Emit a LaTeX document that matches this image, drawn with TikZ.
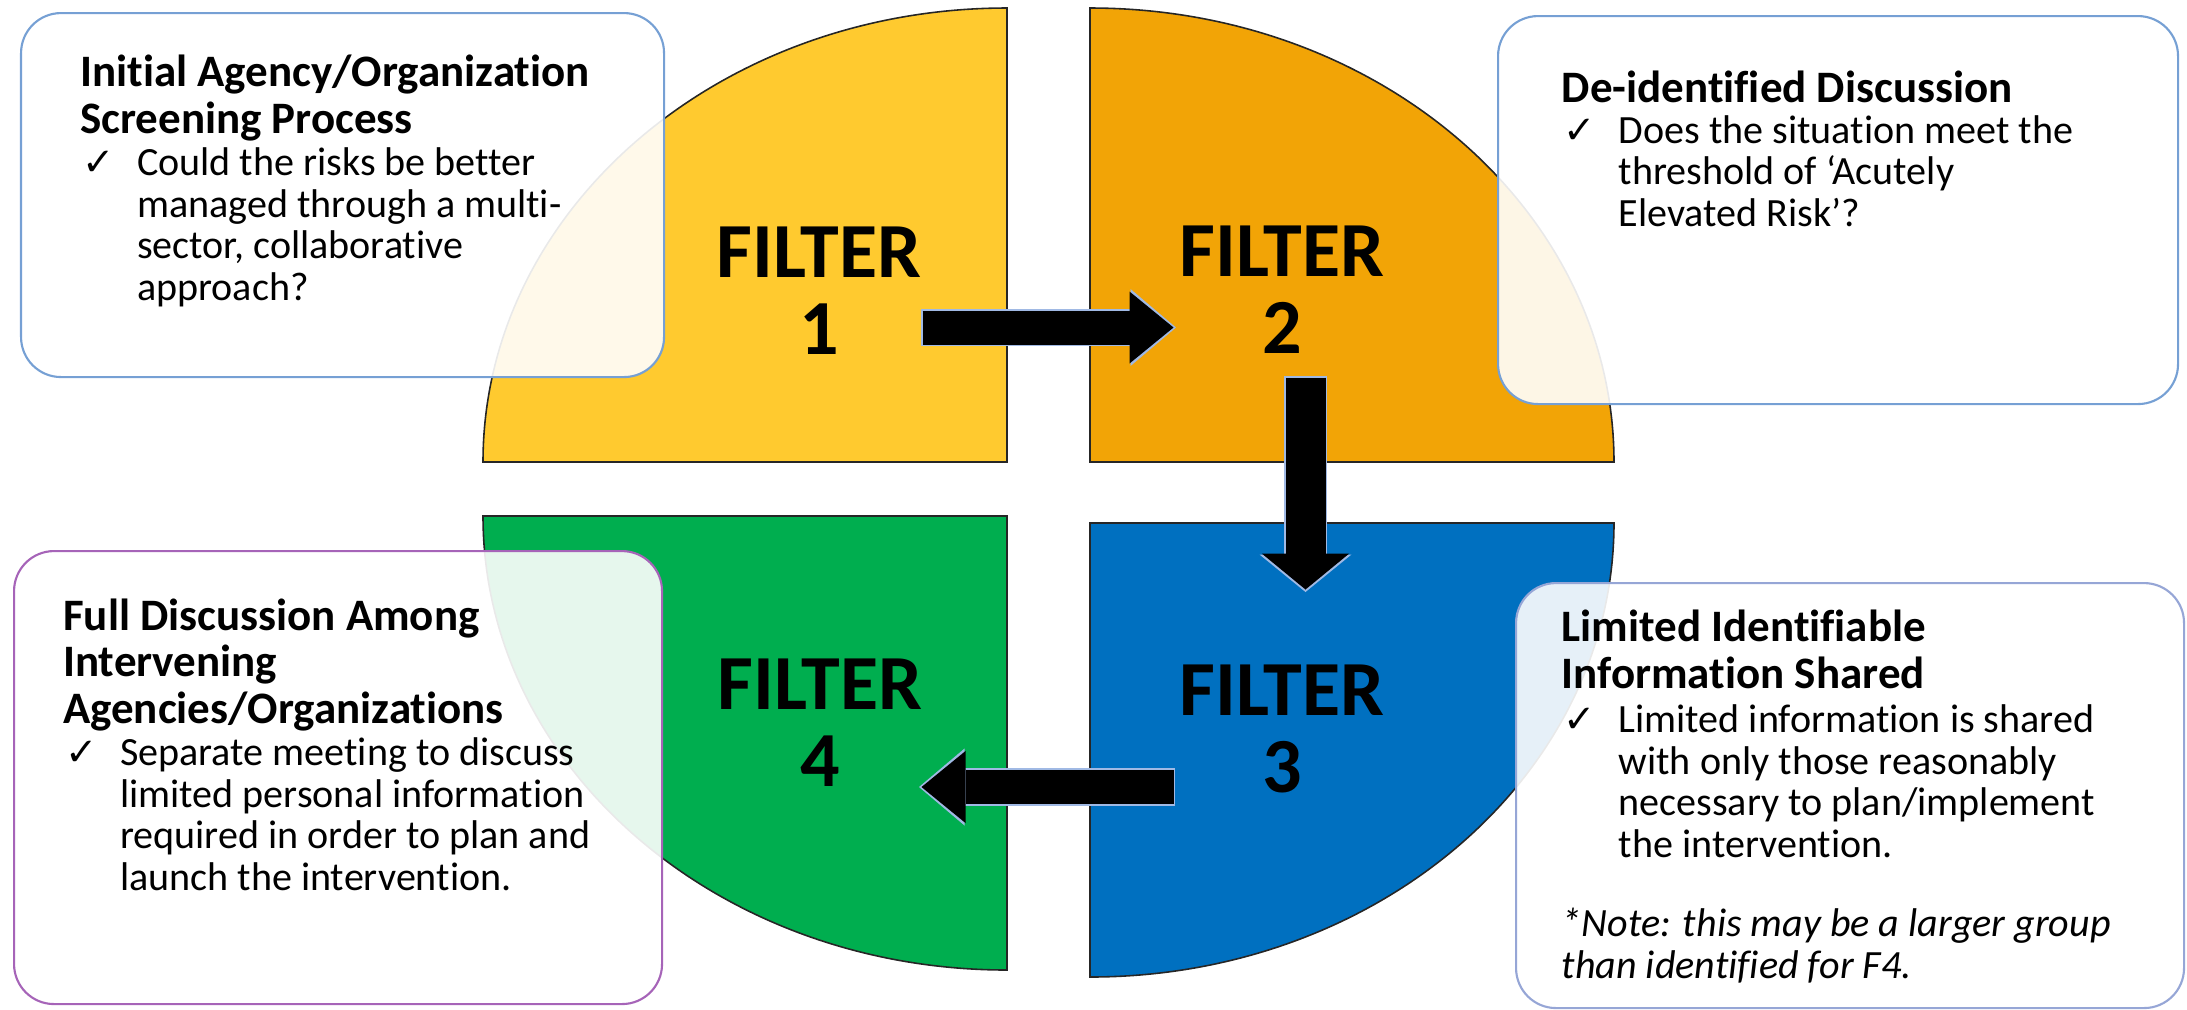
\documentclass[tikz,border=0pt]{standalone}
\usepackage{fontspec}
\setmainfont{Carlito}[Ligatures=NoCommon]
\newfontfamily\symfont{DejaVu Sans}
\usepackage{tikz}
\usetikzlibrary{arrows.meta,positioning,calc}

\definecolor{filtyellow}{RGB}{255,202,47}
\definecolor{filtorange}{RGB}{242,164,6}
\definecolor{filtgreen}{RGB}{0,174,79}
\definecolor{filtblue}{RGB}{0,112,192}
\definecolor{noteblue}{RGB}{118,160,212}
\definecolor{notepurple}{RGB}{166,100,184}
\definecolor{notegray}{RGB}{150,166,214}
\definecolor{arrowedge}{RGB}{160,185,228}

\newcommand{\tickmark}{\makebox[0.57cm][l]{\hspace{0.02cm}{\symfont\fontsize{11}{11}\selectfont ✓}}}
\newcommand{\tickind}{\hspace*{0.57cm}}

\begin{document}
\begin{tikzpicture}[
		quad/.style={draw=black!85, line width=0.45pt},
		note/.style={rectangle, rounded corners=0.4cm, fill=white, fill opacity=0.9, line width=0.6pt, anchor=north west, inner sep=0pt},
		filt/.style={font=\fontsize{22.2}{21.9}\selectfont\bfseries, align=center, anchor=base, inner sep=0pt},
		head/.style={font=\fontsize{12.8}{13.2}\selectfont\bfseries, align=left, anchor=base west, inner sep=0pt},
		body/.style={font=\fontsize{11.4}{11.8}\selectfont, align=left, anchor=base west, inner sep=0pt},
		flow/.style={black, line width=0.34cm, -{Triangle[length=0.44cm, width=0.72cm, line width=0pt]}, shorten <=0.015cm, shorten >=0.025cm,
			preaction={draw=arrowedge, line width=0.375cm, shorten <=0pt, shorten >=0pt, -{Triangle[length=0.455cm, width=0.77cm, line width=0pt]}}},
		flowdown/.style={black, line width=0.40cm, -{Triangle[length=0.36cm, width=0.875cm, line width=0pt]}, shorten <=0.015cm, shorten >=0.025cm,
			preaction={draw=arrowedge, line width=0.43cm, shorten <=0pt, shorten >=0pt, -{Triangle[length=0.375cm, width=0.92cm, line width=0pt]}}}
	]
		\useasboundingbox (0,0) rectangle (21.87,-10.09);

		% the four quarters
		\filldraw[quad, fill=filtyellow] (10.07,-4.62) -- (4.83,-4.62) arc[start angle=180, end angle=90, x radius=5.24, y radius=4.54] -- cycle;
		\filldraw[quad, fill=filtorange] (10.90,-4.62) -- (16.14,-4.62) arc[start angle=0, end angle=90, x radius=5.24, y radius=4.54] -- cycle;
		\filldraw[quad, fill=filtgreen] (10.07,-5.16) -- (4.83,-5.16) arc[start angle=180, end angle=270, x radius=5.24, y radius=4.54] -- cycle;
		\filldraw[quad, fill=filtblue] (10.90,-5.23) -- (16.14,-5.23) arc[start angle=0, end angle=-90, x radius=5.24, y radius=4.54] -- cycle;

		% labels sit on the baseline of their last line
		\node[filt] (f1) at (8.19,-3.54) {FILTER\\1};
		\node[filt] (f2) at (12.82,-3.53) {FILTER\\2};
		\node[filt] (f3) at (12.82,-7.92) {FILTER\\3};
		\node[filt] (f4) at (8.20,-7.86) {FILTER\\4};

		% arrows between filters
		\coordinate (f1out) at (9.21,-3.275);
		\coordinate (f2in) at (11.76,-3.275);
		\coordinate (f2out) at (13.055,-3.76);
		\coordinate (f3in) at (13.055,-5.92);
		\coordinate (f3out) at (11.75,-7.87);
		\coordinate (f4in) at (9.19,-7.87);
		\draw[flow] (f1out) -- (f2in);
		\draw[flowdown] (f2out) -- (f3in);
		\draw[flow] (f3out) -- (f4in);

		% text boxes
		\node[note, draw=noteblue, minimum width=6.43cm, minimum height=3.64cm] (box1) at (0.20,-0.12) {};
		\node[note, draw=noteblue, minimum width=6.80cm, minimum height=3.88cm] (box2) at (14.97,-0.15) {};
		\node[note, draw=notepurple, minimum width=6.48cm, minimum height=4.53cm] (box3) at (0.13,-5.50) {};
		\node[note, draw=notegray, minimum width=6.68cm, minimum height=4.25cm] (box4) at (15.15,-5.82) {};

		\node[head] (title1) at (0.795,-1.33) {Initial Agency/Organization\\Screening Process};
		\node[body] (text1) at (0.795,-3.00) {\tickmark Could the risks be better\\\tickind managed through a multi-\\\tickind sector, collaborative\\\tickind approach?};

		\node[head] (title2) at (15.61,-1.02) {De-identified Discussion};
		\node[body] (text2) at (15.61,-2.26) {\tickmark Does the situation meet the\\\tickind threshold of ‘Acutely\\\tickind Elevated Risk’?};

		\node[head] (title3) at (0.625,-7.23) {Full Discussion Among\\Intervening\\Agencies/Organizations};
		\node[body] (text3) at (0.625,-8.90) {\tickmark Separate meeting to discuss\\\tickind limited personal information\\\tickind required in order to plan and\\\tickind launch the intervention.};

		\node[head] (title4) at (15.61,-6.88) {Limited Identifiable\\Information Shared};
		\node[body] (text4) at (15.61,-8.57) {\tickmark Limited information is shared\\\tickind with only those reasonably\\\tickind necessary to plan/implement\\\tickind the intervention.};
		\node[body, font=\fontsize{11.4}{11.8}\selectfont\itshape] (note4) at (15.61,-9.78) {*Note: this may be a larger group\\than identified for F4.};
	\end{tikzpicture}
\end{document}
